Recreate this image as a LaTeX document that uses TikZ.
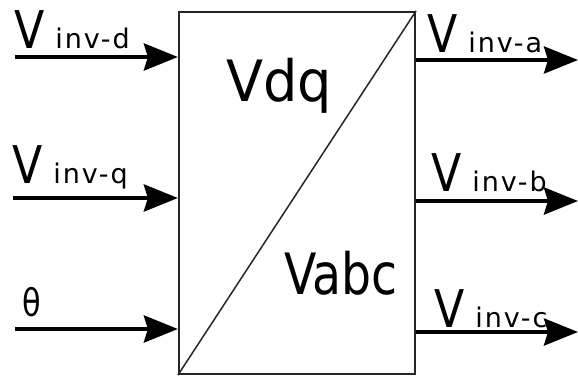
\documentclass[tikz,border=0pt]{standalone}
\usepackage{graphicx}
\usepackage{fontspec}
\setmainfont{DejaVu Sans}
\newfontfamily\subfont{DejaVu Sans}[LetterSpace=7]
\usetikzlibrary{arrows.meta}

% signal name: large V followed by a smaller, spaced suffix
\newcommand\signame[1]{\scalebox{0.85}[1]{\fontsize{52pt}{52pt}\selectfont V}\hspace{11pt}{\fontsize{27pt}{27pt}\subfont #1}}

\begin{document}
\begin{tikzpicture}[x=1pt,y=-1pt,
  sig/.style={inner sep=0pt, anchor=base west},
  flow/.style={line width=4pt, -{Stealth[length=34pt,width=27pt,inset=4pt]}},
  convbox/.style={draw=black!85, line width=2.2pt, inner sep=0pt, minimum width=236pt, minimum height=362pt}]
\useasboundingbox (0,0) rectangle (578,377);

% converter block with its diagonal
\node[convbox] (conv) at (297,193) {};
\draw[black!85, line width=1.5pt] (conv.south west) -- (conv.north east);
\node[sig] (tdq) at (226,102) {\scalebox{0.95}[1]{\fontsize{57pt}{57pt}\selectfont Vdq}};
\node[sig] (tabc) at (284,294) {\scalebox{0.83}[1]{\fontsize{57pt}{57pt}\selectfont Vabc}};

% inputs
\coordinate (din) at (15,57);
\coordinate (qin) at (13,198);
\coordinate (tin) at (15,329);
\draw[flow] (din) -- (din -| conv.west);
\draw[flow] (qin) -- (qin -| conv.west);
\draw[flow] (tin) -- (tin -| conv.west);
\node[sig] (ld) at (14,49) {\signame{inv-d}};
\node[sig] (lq) at (12,183) {\signame{inv-q}};
\node[sig] (lt) at (22,316) {\scalebox{0.8}[1]{\fontsize{38pt}{38pt}\selectfont θ}};

% outputs
\coordinate (aout) at (578,60);
\coordinate (bout) at (578,201);
\coordinate (cout) at (578,332);
\draw[flow] (aout -| conv.east) -- (aout);
\draw[flow] (bout -| conv.east) -- (bout);
\draw[flow] (cout -| conv.east) -- (cout);
\node[sig] (la) at (427,53) {\signame{inv-a}};
\node[sig] (lb) at (431,191) {\signame{inv-b}};
\node[sig] (lc) at (434,327) {\signame{inv-c}};
\end{tikzpicture}
\end{document}
